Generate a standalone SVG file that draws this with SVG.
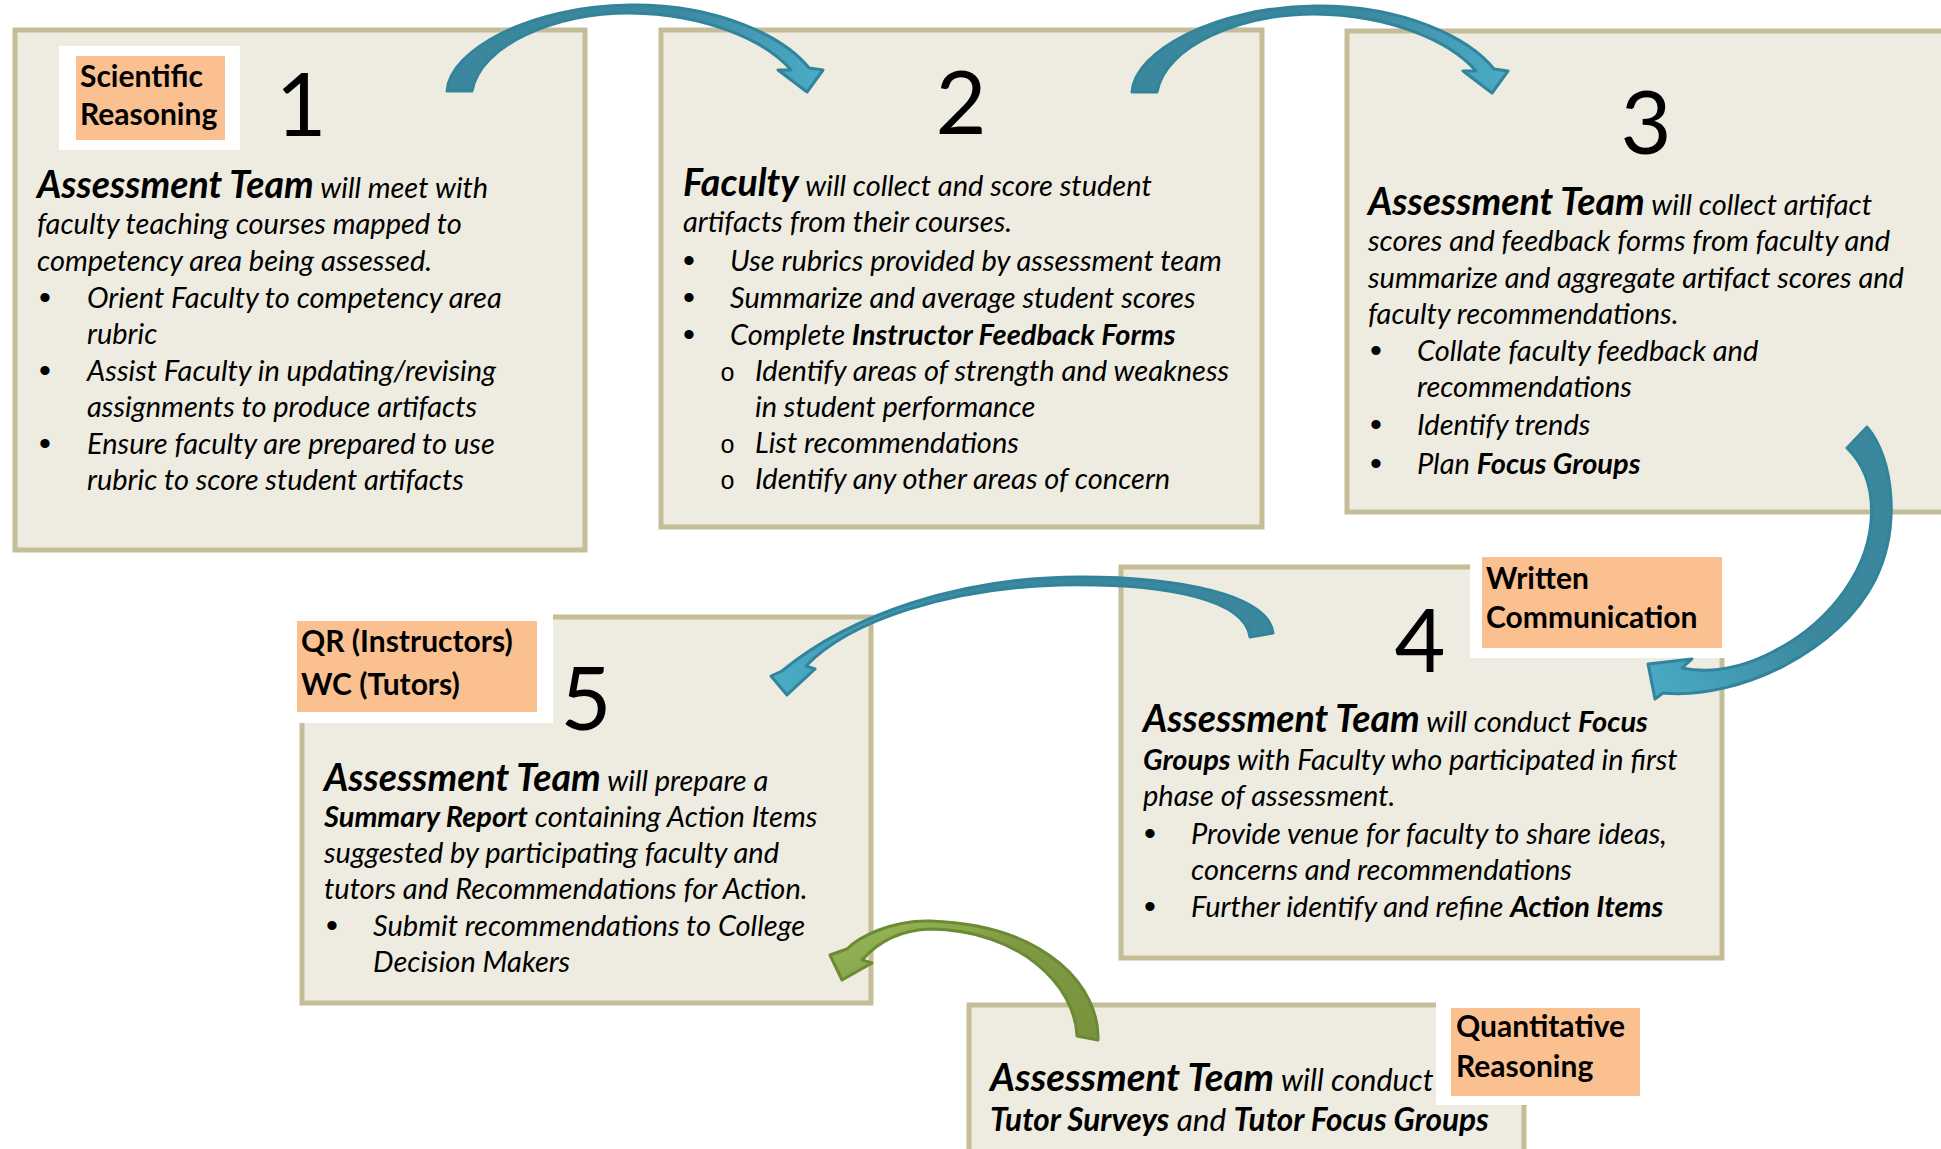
<svg xmlns="http://www.w3.org/2000/svg" width="1941" height="1149" viewBox="0 0 1941 1149">
  <style>
    .box { fill: #EEECE1; stroke: #C4BD97; stroke-width: 5; }
    .pad { fill: #FFFFFF; }
    .tag { fill: #FAC090; }
    .t { font-family: Lato, "Open Sans", sans-serif; font-size: 29px; font-style: italic; fill: #000; }
    .h { font-size: 37.5px; font-weight: bold; }
    .b { font-weight: bold; }
    .big { font-size: 30.5px; }
    .big .h { font-size: 38.5px; }
    .bul { font-family: "Liberation Sans", sans-serif; font-style: normal; font-size: 34px; }
    .sub { font-family: "Liberation Mono", monospace; font-style: normal; font-size: 25px; }
    .num { font-family: Lato, "Open Sans", sans-serif; font-size: 88px; text-anchor: middle; fill: #000; }
    .lt { font-family: Lato, "Open Sans", sans-serif; font-size: 30px; font-weight: bold; fill: #000; }
    .teal { stroke: #31849B; stroke-width: 3; stroke-linejoin: round; }
    .green { stroke: #6C8A34; stroke-width: 3; stroke-linejoin: round; }
  </style>
  <defs>
    <linearGradient id="gRight" x1="0" y1="0" x2="1" y2="0">
      <stop offset="0" stop-color="#3B889E"/>
      <stop offset="0.6" stop-color="#3B889E"/>
      <stop offset="1" stop-color="#4BACC6"/>
    </linearGradient>
    <linearGradient id="gLeft" x1="1" y1="0" x2="0" y2="0">
      <stop offset="0" stop-color="#3B889E"/>
      <stop offset="0.6" stop-color="#3B889E"/>
      <stop offset="1" stop-color="#4BACC6"/>
    </linearGradient>
    <linearGradient id="gDown" x1="1" y1="0" x2="0" y2="1">
      <stop offset="0" stop-color="#3B889E"/>
      <stop offset="0.55" stop-color="#3B889E"/>
      <stop offset="1" stop-color="#4BACC6"/>
    </linearGradient>
    <linearGradient id="gGreen" x1="1" y1="1" x2="0" y2="0">
      <stop offset="0" stop-color="#77933C"/>
      <stop offset="0.55" stop-color="#7E9B42"/>
      <stop offset="1" stop-color="#9BBB59"/>
    </linearGradient>
  </defs>

  <rect width="1941" height="1149" fill="#FFFFFF"/>

  <!-- Step 1 -->
  <g id="step1">
    <rect class="box" x="15" y="30" width="570" height="520"/>
    <rect class="pad" x="59" y="46" width="181" height="104"/>
    <rect class="tag" x="76" y="56" width="149" height="84"/>
    <text class="lt" x="80" y="87">Scientific</text>
    <text class="lt" x="80" y="125">Reasoning</text>
    <text class="num" x="301" y="136">1</text>
    <text class="t">
      <tspan x="37" y="198"><tspan class="h">Assessment Team</tspan> will meet with</tspan>
      <tspan x="37" y="234">faculty teaching courses mapped to</tspan>
      <tspan x="37" y="271">competency area being assessed.</tspan>
      <tspan x="87" y="308">Orient Faculty to competency area</tspan>
      <tspan x="87" y="344">rubric</tspan>
      <tspan x="87" y="381">Assist Faculty in updating/revising</tspan>
      <tspan x="87" y="417">assignments to produce artifacts</tspan>
      <tspan x="87" y="454">Ensure faculty are prepared to use</tspan>
      <tspan x="87" y="490">rubric to score student artifacts</tspan>
    </text>
    <text class="t bul">
      <tspan x="39" y="309">•</tspan>
      <tspan x="39" y="382">•</tspan>
      <tspan x="39" y="455">•</tspan>
    </text>
  </g>

  <!-- Step 2 -->
  <g id="step2">
    <rect class="box" x="661" y="30" width="601" height="497"/>
    <text class="num" x="961" y="134">2</text>
    <text class="t">
      <tspan x="683" y="196"><tspan class="h">Faculty</tspan> will collect and score student</tspan>
      <tspan x="683" y="232">artifacts from their courses.</tspan>
      <tspan x="730" y="271">Use rubrics provided by assessment team</tspan>
      <tspan x="730" y="308">Summarize and average student scores</tspan>
      <tspan x="730" y="345">Complete <tspan class="b">Instructor Feedback Forms</tspan></tspan>
      <tspan x="755" y="381">Identify areas of strength and weakness</tspan>
      <tspan x="755" y="417">in student performance</tspan>
      <tspan x="755" y="453">List recommendations</tspan>
      <tspan x="755" y="489">Identify any other areas of concern</tspan>
    </text>
    <text class="t bul">
      <tspan x="683" y="272">•</tspan>
      <tspan x="683" y="309">•</tspan>
      <tspan x="683" y="346">•</tspan>
    </text>
    <text class="t sub">
      <tspan x="720" y="381">o</tspan>
      <tspan x="720" y="453">o</tspan>
      <tspan x="720" y="489">o</tspan>
    </text>
  </g>

  <!-- Step 3 -->
  <g id="step3">
    <rect class="box" x="1347" y="31" width="610" height="481"/>
    <text class="num" x="1646" y="154">3</text>
    <text class="t">
      <tspan x="1368" y="215"><tspan class="h">Assessment Team</tspan> will collect artifact</tspan>
      <tspan x="1368" y="251">scores and feedback forms from faculty and</tspan>
      <tspan x="1368" y="288">summarize and aggregate artifact scores and</tspan>
      <tspan x="1368" y="324">faculty recommendations.</tspan>
      <tspan x="1417" y="361">Collate faculty feedback and</tspan>
      <tspan x="1417" y="397">recommendations</tspan>
      <tspan x="1417" y="435">Identify trends</tspan>
      <tspan x="1417" y="474">Plan <tspan class="b">Focus Groups</tspan></tspan>
    </text>
    <text class="t bul">
      <tspan x="1370" y="362">•</tspan>
      <tspan x="1370" y="436">•</tspan>
      <tspan x="1370" y="475">•</tspan>
    </text>
  </g>

  <!-- Step 4 -->
  <g id="step4">
    <rect class="box" x="1121" y="567" width="601" height="391"/>
    <rect class="pad" x="1470" y="553" width="256" height="105"/>
    <rect class="tag" x="1482" y="557" width="240" height="91"/>
    <text class="lt" x="1486" y="589">Written</text>
    <text class="lt" x="1486" y="628">Communication</text>
    <text class="num" x="1420" y="672">4</text>
    <text class="t">
      <tspan x="1143" y="732"><tspan class="h">Assessment Team</tspan> will conduct <tspan class="b">Focus</tspan></tspan>
      <tspan x="1143" y="770"><tspan class="b">Groups</tspan> with Faculty who participated in first</tspan>
      <tspan x="1143" y="806">phase of assessment.</tspan>
      <tspan x="1191" y="844">Provide venue for faculty to share ideas,</tspan>
      <tspan x="1191" y="880">concerns and recommendations</tspan>
      <tspan x="1191" y="917">Further identify and refine <tspan class="b">Action Items</tspan></tspan>
    </text>
    <text class="t bul">
      <tspan x="1144" y="845">•</tspan>
      <tspan x="1144" y="918">•</tspan>
    </text>
  </g>

  <!-- Step 5 -->
  <g id="step5">
    <rect class="box" x="302" y="617" width="569" height="386"/>
    <rect class="pad" x="290" y="606" width="263" height="117"/>
    <rect class="tag" x="297" y="621" width="240" height="91"/>
    <text class="lt" x="301" y="652">QR (Instructors)</text>
    <text class="lt" x="301" y="695">WC (Tutors)</text>
    <text class="num" x="586" y="730">5</text>
    <text class="t">
      <tspan x="324" y="791"><tspan class="h">Assessment Team</tspan> will prepare a</tspan>
      <tspan x="324" y="827"><tspan class="b">Summary Report</tspan> containing Action Items</tspan>
      <tspan x="324" y="863">suggested by participating faculty and</tspan>
      <tspan x="324" y="899">tutors and Recommendations for Action.</tspan>
      <tspan x="373" y="936">Submit recommendations to College</tspan>
      <tspan x="373" y="972">Decision Makers</tspan>
    </text>
    <text class="t bul">
      <tspan x="326" y="937">•</tspan>
    </text>
  </g>

  <!-- Tutor step -->
  <g id="tutors">
    <rect class="box" x="969" y="1005" width="555" height="160"/>
    <rect class="pad" x="1436" y="1001" width="204" height="104"/>
    <rect class="tag" x="1451" y="1008" width="189" height="88"/>
    <text class="lt" x="1456" y="1037">Quantitative</text>
    <text class="lt" x="1456" y="1077">Reasoning</text>
    <text class="t big">
      <tspan x="990" y="1091"><tspan class="h">Assessment Team</tspan> will conduct</tspan>
      <tspan x="990" y="1131" font-size="31.5"><tspan class="b">Tutor Surveys</tspan> and <tspan class="b">Tutor Focus Groups</tspan></tspan>
    </text>
  </g>

  <!-- Curved block arrows between steps -->
  <g id="connectors">
    <path id="a12" class="teal" fill="url(#gRight)" d="M 447,91 C 450,50 530,6 630,5 C 720,4 785,38 809,68 L 823,70 L 807,92 L 778,70 L 791,70 C 765,40 705,14 630,13 C 555,13 480,45 472,91 Z"/>
    <path id="a23" class="teal" fill="url(#gRight)" transform="translate(685,1)" d="M 447,91 C 450,50 530,6 630,5 C 720,4 785,38 809,68 L 823,70 L 807,92 L 778,70 L 791,70 C 765,40 705,14 630,13 C 555,13 480,45 472,91 Z"/>
    <path id="a34" class="teal" fill="url(#gDown)" d="M 1847,448 L 1867,427 C 1895,460 1900,530 1875,580 C 1840,650 1740,700 1663,693 L 1655,699 L 1648,664 L 1692,659 L 1682,668 C 1740,680 1810,640 1845,590 C 1880,540 1880,480 1847,448 Z"/>
    <path id="a45" class="teal" fill="url(#gLeft)" d="M 1250,637 L 1273,633 C 1268,595 1180,577 1080,577 C 960,577 850,615 782,671 L 771,676 L 787,695 L 815,669 L 806,666 C 850,620 950,588 1060,585 C 1170,583 1245,600 1250,637 Z"/>
    <path id="a65" class="green" fill="url(#gGreen)" d="M 1077,1036 L 1098,1040 C 1100,990 1050,925 930,921 C 890,920 858,938 847,949 L 830,955 L 842,980 L 872,963 L 862,960 C 878,942 900,930 930,929 C 1020,930 1075,985 1077,1036 Z"/>
  </g>
</svg>
